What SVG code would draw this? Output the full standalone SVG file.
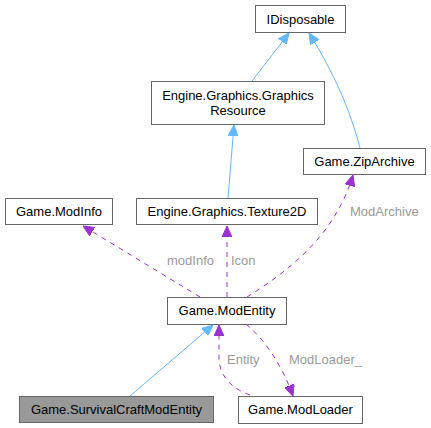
<svg xmlns="http://www.w3.org/2000/svg" width="431" height="428" viewBox="0 0 431 428">
<style>
.n rect{fill:#fff;stroke:#666;stroke-width:1}
.n.h rect{fill:#999}
text{font-family:"Liberation Sans",Arial,sans-serif;font-size:13px;fill:#000}
.n text{text-anchor:middle}
.l{fill:#9a9a9a}
.inh{fill:none;stroke:#63b8ff;stroke-width:1}
.use{fill:none;stroke:#9a32cd;stroke-width:1;stroke-dasharray:5,5}
</style>
<defs>
<marker id="ab" viewBox="0 0 11 10" refX="11" refY="5" markerWidth="11" markerHeight="10" markerUnits="userSpaceOnUse" orient="auto">
<path d="M0,0 L11,5 L0,10 z" fill="#63b8ff" stroke="#63b8ff"/>
</marker>
<marker id="ap" viewBox="0 0 11 10" refX="11" refY="5" markerWidth="11" markerHeight="10" markerUnits="userSpaceOnUse" orient="auto">
<path d="M0,0 L11,5 L0,10 z" fill="#9a32cd" stroke="#9a32cd"/>
</marker>
</defs>
<g id="edges">
<path class="inh" d="M252,81 L289,33" marker-end="url(#ab)"/>
<path class="inh" d="M360,148 C350,110 335,75 309,33" marker-end="url(#ab)"/>
<path class="inh" d="M228,198 L234,125" marker-end="url(#ab)"/>
<path class="use" d="M200,297 L83,226" marker-end="url(#ap)"/>
<path class="use" d="M227,297 L227,226" marker-end="url(#ap)"/>
<path class="use" d="M247,297 C290,270 335,235 353,175" marker-end="url(#ap)"/>
<path class="inh" d="M130,396 L213,325" marker-end="url(#ab)"/>
<path class="use" d="M250,395 C230,388 220,375 219,360 L219,325" marker-end="url(#ap)"/>
<path class="use" d="M246,324 C265,340 282,365 293,396" marker-end="url(#ap)"/>
<text class="l" x="350" y="216">ModArchive</text>
<text class="l" x="167" y="265">modInfo</text>
<text class="l" x="231" y="265">Icon</text>
<text class="l" x="227" y="364">Entity</text>
<text class="l" x="289" y="364">ModLoader_</text>
</g>
<g id="IDisposable" class="n"><rect x="255.5" y="5.5" width="90" height="27"/><text x="300.5" y="23.5">IDisposable</text></g>
<g id="GraphicsResource" class="n"><rect x="151.5" y="81.5" width="173" height="43"/><text x="238" y="99.5">Engine.Graphics.Graphics</text><text x="238" y="114.5">Resource</text></g>
<g id="ZipArchive" class="n"><rect x="303.5" y="148.5" width="122" height="26"/><text x="364.5" y="166">Game.ZipArchive</text></g>
<g id="ModInfo" class="n"><rect x="5.5" y="198.5" width="107" height="26"/><text x="59" y="216">Game.ModInfo</text></g>
<g id="Texture2D" class="n"><rect x="136.5" y="198.5" width="181" height="26"/><text x="227" y="216">Engine.Graphics.Texture2D</text></g>
<g id="ModEntity" class="n"><rect x="167.5" y="297.5" width="119" height="27"/><text x="227" y="315">Game.ModEntity</text></g>
<g id="SurvivalCraftModEntity" class="n h"><rect x="19.5" y="396.5" width="194" height="26"/><text x="116.5" y="414">Game.SurvivalCraftModEntity</text></g>
<g id="ModLoader" class="n"><rect x="238.5" y="396.5" width="124" height="27"/><text x="300.5" y="414">Game.ModLoader</text></g>
</svg>
